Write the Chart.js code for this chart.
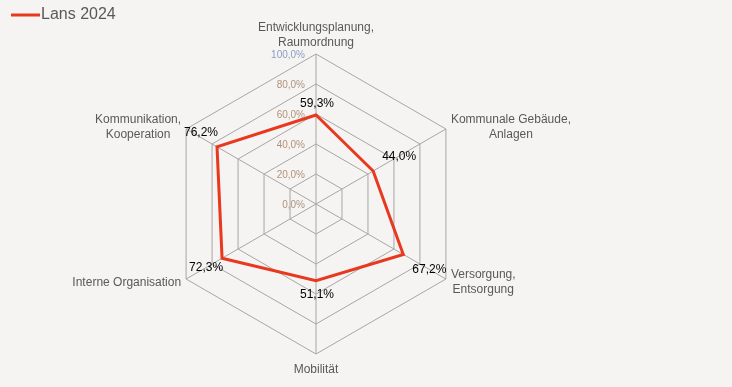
<!DOCTYPE html>
<html>
<head>
<meta charset="utf-8">
<script src="https://cdn.jsdelivr.net/npm/chart.js@4/dist/chart.umd.min.js"></script>
<style>
    html, body { margin: 0; padding: 0; background: #f5f4f2; }
    #wrap { width: 732px; height: 387px; position: relative; }
</style>
</head>
<body>
<div id="wrap"><canvas id="radar" width="732" height="387"></canvas></div>
<script>
// chart data
const categories = [
    ['Entwicklungsplanung,', 'Raumordnung'],
    ['Kommunale Gebäude,', 'Anlagen'],
    ['Versorgung,', 'Entsorgung'],
    ['Mobilität'],
    ['Interne Organisation'],
    ['Kommunikation,', 'Kooperation']
];
const seriesName = 'Lans 2024';
const lans2024 = [59.3, 44.0, 67.2, 51.1, 72.3, 76.2];
const tickValues = [0, 20, 40, 60, 80, 100];

const lineColor = '#e8381e';
const textColor = '#595959';
const fontFamily = '"Liberation Sans", Arial, sans-serif';

const fmt = v => v.toFixed(1).replace('.', ',') + '%';

// legend, tick labels, point labels and value labels drawn on top
const overlayPlugin = {
    id: 'overlay',
    afterDraw(chart) {
        const ctx = chart.ctx;
        const scale = chart.scales.r;
        const cx = scale.xCenter, cy = scale.yCenter;
        ctx.save();

        // legend
        ctx.strokeStyle = lineColor;
        ctx.lineWidth = 3;
        ctx.beginPath();
        ctx.moveTo(11, 15);
        ctx.lineTo(40, 15);
        ctx.stroke();
        ctx.fillStyle = textColor;
        ctx.font = '16px ' + fontFamily;
        ctx.textAlign = 'left';
        ctx.textBaseline = 'middle';
        ctx.fillText(seriesName, 41, 15);

        // tick labels left of the top axis
        ctx.font = '10px ' + fontFamily;
        ctx.textAlign = 'right';
        tickValues.forEach(v => {
            const d = scale.getDistanceFromCenterForValue(v);
            ctx.fillStyle = v === 100 ? '#8b9ec4' : '#b0927a';
            ctx.fillText(fmt(v), cx - 11, cy - d + 1);
        });

        // point labels
        ctx.font = '12px ' + fontFamily;
        ctx.fillStyle = textColor;
        ctx.textAlign = 'center';
        const lh = 15;
        categories.forEach((lines, i) => {
            const p = scale.getPointPosition(i, scale.drawingArea);
            const widths = lines.map(l => ctx.measureText(l).width);
            const w = Math.max(...widths);
            let bx, by; // block centre
            const h = lines.length * lh;
            if (Math.abs(p.x - cx) < 2) {
                bx = p.x;
                by = p.y < cy ? p.y - 4 - h / 2 : p.y + 8 + h / 2;
            } else if (p.x > cx) {
                bx = p.x + 5 + w / 2;
                by = p.y < cy ? p.y - 2 : p.y + 3;
            } else {
                bx = p.x - 5 - w / 2;
                by = p.y < cy ? p.y - 2 : p.y + 4;
            }
            lines.forEach((l, k) => {
                ctx.fillText(l, bx, by - h / 2 + lh / 2 + k * lh);
            });
        });

        // value labels
        ctx.fillStyle = '#000000';
        ctx.font = '12px ' + fontFamily;
        const meta = chart.getDatasetMeta(0);
        meta.data.forEach((pt, i) => {
            const v = lans2024[i];
            let x = pt.x, y = pt.y;
            if (Math.abs(x - cx) < 2) {
                ctx.textAlign = 'center';
                x += 1;
                y += y < cy ? -11 : 14;
            } else if (x > cx) {
                ctx.textAlign = 'left';
                x += 9;
                y += y < cy ? -14 : 15;
            } else {
                ctx.textAlign = 'right';
                x += 1;
                y += y < cy ? -14 : 9;
            }
            ctx.fillText(fmt(v), x, y);
        });
        ctx.restore();
    }
};

new Chart(document.getElementById('radar'), {
    type: 'radar',
    data: {
        labels: categories.map(c => c.join(' ')),
        datasets: [{
            label: seriesName,
            data: lans2024,
            borderColor: lineColor,
            borderWidth: 3,
            fill: false,
            pointRadius: 0,
            pointHoverRadius: 0,
            tension: 0
        }]
    },
    options: {
        responsive: false,
        animation: false,
        layout: { padding: { top: 54, bottom: 33, left: 50, right: 150 } },
        plugins: {
            legend: { display: false },
            tooltip: { enabled: false }
        },
        scales: {
            r: {
                min: 0,
                max: 100,
                ticks: { stepSize: 20, display: false },
                grid: { color: '#a6a6a6', lineWidth: 1 },
                angleLines: { color: '#a6a6a6', lineWidth: 1 },
                pointLabels: { display: false }
            }
        }
    },
    plugins: [overlayPlugin]
});
</script>
</body>
</html>
